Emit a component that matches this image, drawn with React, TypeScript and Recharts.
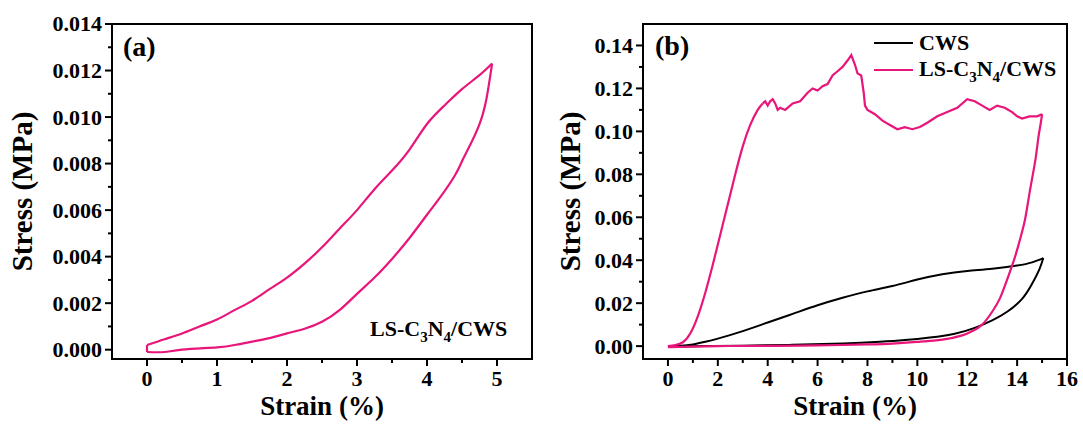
import React from "react";
import { LineChart, Line, XAxis, YAxis, ReferenceArea, Legend } from "recharts";

const PINK = "#e8157a";
const FONT = "'Liberation Serif', 'Times New Roman', serif";
const MAJOR_LEN = 7;
const MINOR_LEN = 4;

// (a) LS-C3N4/CWS loop: loading branch, unloading branch, closing step at 0 %
const A_LOAD_STRAIN = [0, 0.25, 0.5, 0.75, 1, 1.25, 1.5, 1.75, 2, 2.25, 2.5, 2.75, 3, 3.25, 3.5, 3.75, 4, 4.25, 4.5, 4.75, 4.93];
const A_LOAD_STRESS = [0.0002, 0.00045, 0.0007, 0.001, 0.0013, 0.0017, 0.0021, 0.0026, 0.0031, 0.0037, 0.0044, 0.0052, 0.006, 0.0069, 0.0077, 0.0086, 0.0097, 0.0105, 0.0112, 0.0118, 0.0123];
const A_UNLOAD_STRAIN = [4.93, 4.85, 4.75, 4.6, 4.5, 4.4, 4.2, 4, 3.75, 3.5, 3.25, 3, 2.75, 2.5, 2.25, 2, 1.75, 1.5, 1.25, 1, 0.5, 0.25, 0];
const A_UNLOAD_STRESS = [0.0123, 0.0108, 0.0097, 0.0087, 0.0081, 0.0075, 0.0066, 0.0058, 0.0048, 0.0039, 0.0031, 0.0024, 0.0017, 0.0012, 0.0009, 0.0007, 0.0005, 0.00035, 0.0002, 0.0001, 0, -0.0001, -0.0001];
const A_CLOSE_STRAIN = [0, 0];
const A_CLOSE_STRESS = [-0.0001, 0.0002];

// (b) CWS
const CWS_LOAD_STRAIN = [0, 0.5, 1, 1.5, 2, 3, 4, 5, 6, 7, 8, 9, 10, 11, 12, 13, 14, 14.6, 15.05];
const CWS_LOAD_STRESS = [0, 0.0002, 0.0008, 0.002, 0.0035, 0.007, 0.011, 0.015, 0.019, 0.0225, 0.0255, 0.028, 0.031, 0.0335, 0.035, 0.036, 0.0375, 0.039, 0.041];
const CWS_UNLOAD_STRAIN = [15.05, 14.9, 14.6, 14.2, 13.6, 13, 12.3, 11.5, 10.5, 9.5, 8.5, 7, 5, 3, 1.5, 0];
const CWS_UNLOAD_STRESS = [0.041, 0.036, 0.029, 0.022, 0.016, 0.012, 0.0085, 0.0058, 0.004, 0.0028, 0.002, 0.0012, 0.0006, 0.0002, 0, -0.0003];

// (b) LS-C3N4/CWS: steep rise, serrated plateau, unloading
const LS_RISE_STRAIN = [0, 0.3, 0.6, 0.9, 1.2, 1.5, 1.8, 2.1, 2.4, 2.7, 3, 3.3, 3.6, 3.8];
const LS_RISE_STRESS = [0, 0.0005, 0.0018, 0.006, 0.014, 0.025, 0.038, 0.052, 0.066, 0.08, 0.093, 0.103, 0.11, 0.113];
const LS_PLATEAU_STRAIN = [3.8, 3.9, 4, 4.1, 4.2, 4.3, 4.4, 4.5, 4.7, 5, 5.3, 5.6, 5.8, 6, 6.2, 6.4, 6.6, 6.8, 7, 7.2, 7.35, 7.5, 7.6, 7.75, 7.85, 7.9, 8, 8.3, 8.6, 8.9, 9.2, 9.5, 9.8, 10.1, 10.4, 10.8, 11.2, 11.6, 12, 12.3, 12.6, 12.9, 13.2, 13.5, 13.8, 14, 14.2, 14.5, 14.8, 15];
const LS_PLATEAU_STRESS = [0.113, 0.114, 0.112, 0.114, 0.115, 0.113, 0.11, 0.111, 0.11, 0.113, 0.114, 0.118, 0.12, 0.119, 0.121, 0.122, 0.126, 0.128, 0.13, 0.133, 0.1355, 0.131, 0.127, 0.126, 0.118, 0.112, 0.11, 0.108, 0.105, 0.103, 0.101, 0.102, 0.101, 0.102, 0.104, 0.107, 0.109, 0.111, 0.115, 0.114, 0.112, 0.11, 0.112, 0.111, 0.109, 0.107, 0.106, 0.107, 0.107, 0.108];
const LS_UNLOAD_STRAIN = [15, 14.95, 14.85, 14.75, 14.6, 14.45, 14.3, 14.1, 13.9, 13.6, 13.3, 13, 12.6, 12.2, 11.8, 11, 10, 9, 8, 6, 4, 2, 0];
const LS_UNLOAD_STRESS = [0.108, 0.104, 0.097, 0.088, 0.078, 0.068, 0.058, 0.049, 0.041, 0.031, 0.022, 0.016, 0.01, 0.007, 0.005, 0.003, 0.002, 0.0012, 0.0008, 0.0003, 0.0001, 0, -0.0005];

// axes
const A_X_MAJOR = [0, 1, 2, 3, 4, 5];
const A_X_MINOR = [0.5, 1.5, 2.5, 3.5, 4.5];
const A_Y_MAJOR = [0, 0.002, 0.004, 0.006, 0.008, 0.01, 0.012, 0.014];
const A_Y_MINOR = [0.001, 0.003, 0.005, 0.007, 0.009, 0.011, 0.013];
const B_X_MAJOR = [0, 2, 4, 6, 8, 10, 12, 14, 16];
const B_X_MINOR = [1, 3, 5, 7, 9, 11, 13, 15];
const B_Y_MAJOR = [0, 0.02, 0.04, 0.06, 0.08, 0.1, 0.12, 0.14];
const B_Y_MINOR = [0.01, 0.03, 0.05, 0.07, 0.09, 0.11, 0.13];

const zip = (xs: number[], ys: number[]) => xs.map((x, i) => ({ x, y: ys[i] }));
const isIn = (list: number[], v: number) => list.some((m) => Math.abs(m - v) < 1e-9);
const allTicks = (a: number[], b: number[]) => [...a, ...b].sort((p, q) => p - q);

const textStyle = { fontFamily: FONT, fontWeight: 700, fill: "#000" } as const;

function XTick(props: any) {
  const { x, y, payload, majors, fmt } = props;
  const major = isIn(majors, payload.value);
  return (
    <g>
      <line x1={x} x2={x} y1={y} y2={y + (major ? MAJOR_LEN : MINOR_LEN)} stroke="#000" strokeWidth={2} />
      {major && (
        <text x={x} y={y + 27} textAnchor="middle" fontSize={22} {...textStyle}>
          {fmt(payload.value)}
        </text>
      )}
    </g>
  );
}

function YTick(props: any) {
  const { x, y, payload, majors, fmt } = props;
  const major = isIn(majors, payload.value);
  return (
    <g>
      <line x1={x - (major ? MAJOR_LEN : MINOR_LEN)} x2={x} y1={y} y2={y} stroke="#000" strokeWidth={2} />
      {major && (
        <text x={x - 10} y={y} dy="0.34em" textAnchor="end" fontSize={22} {...textStyle}>
          {fmt(payload.value)}
        </text>
      )}
    </g>
  );
}

function XTitle({ viewBox, text }: any) {
  const cx = viewBox.x + viewBox.width / 2;
  return (
    <text x={cx} y={viewBox.y + 56} textAnchor="middle" fontSize={27} {...textStyle}>
      {text}
    </text>
  );
}

function YTitle({ viewBox, text, gap }: any) {
  const cx = viewBox.x + viewBox.width - gap;
  const cy = viewBox.y + viewBox.height / 2;
  return (
    <text x={cx} y={cy} dy="0.34em" transform={`rotate(-90 ${cx} ${cy})`} textAnchor="middle" fontSize={29} {...textStyle}>
      {text}
    </text>
  );
}

// digits after an element symbol are drawn as subscripts
function FormulaHtml({ text }: { text: string }) {
  return (
    <>
      {text.split(/(\d)/).map((p, i) =>
        /\d/.test(p) ? (
          <span key={i} style={{ fontSize: 15, position: "relative", top: 6 }}>{p}</span>
        ) : (
          <span key={i}>{p}</span>
        )
      )}
    </>
  );
}

function FormulaSvg({ x, y, text }: { x: number; y: number; text: string }) {
  const parts = text.split(/(\d)/).filter((p) => p.length > 0);
  let down = false;
  return (
    <text x={x} y={y} fontSize={22} {...textStyle}>
      {parts.map((p, i) => {
        const isSub = /\d/.test(p);
        const dy = isSub ? 6 : down ? -6 : 0;
        down = isSub;
        return (
          <tspan key={i} dy={dy} fontSize={isSub ? 15 : 22}>
            {p}
          </tspan>
        );
      })}
    </text>
  );
}

function LegendBox(props: any) {
  const entries = (props.payload || []).filter(
    (e: any, i: number, all: any[]) => e.type !== "none" && all.findIndex((o: any) => o.value === e.value) === i
  );
  return (
    <div style={{ fontFamily: FONT, fontWeight: 700, fontSize: 22, color: "#000" }}>
      {entries.map((e: any) => (
        <div key={e.value} style={{ display: "flex", alignItems: "center", height: 27, whiteSpace: "nowrap" }}>
          <span style={{ display: "inline-block", width: 39, height: 2, background: e.color, marginRight: 6 }} />
          <span style={{ lineHeight: "22px" }}>
            <FormulaHtml text={e.value} />
          </span>
        </div>
      ))}
    </div>
  );
}

type Segment = { data: { x: number; y: number }[]; curve: "natural" | "linear" };
type Series = { name: string; color: string; width: number; segments: Segment[] };

type PanelProps = {
  width: number;
  margin: { top: number; right: number; bottom: number; left: number };
  xDomain: [number, number];
  yDomain: [number, number];
  xMajor: number[];
  xMinor: number[];
  yMajor: number[];
  yMinor: number[];
  xFmt: (v: number) => string;
  yFmt: (v: number) => string;
  yTitleGap: number;
  series: Series[];
  legend?: boolean;
};

function Panel(p: PanelProps) {
  return (
    <LineChart width={p.width} height={424} margin={p.margin}>
      <ReferenceArea
        x1={p.xDomain[0]}
        x2={p.xDomain[1]}
        y1={p.yDomain[0]}
        y2={p.yDomain[1]}
        fill="none"
        stroke="#000"
        strokeWidth={2}
        ifOverflow="visible"
      />
      <XAxis
        type="number"
        dataKey="x"
        domain={p.xDomain}
        allowDataOverflow
        ticks={allTicks(p.xMajor, p.xMinor)}
        interval={0}
        height={34}
        tickSize={0}
        tickMargin={0}
        tickLine={false}
        axisLine={{ stroke: "#000", strokeWidth: 2 }}
        tick={<XTick majors={p.xMajor} fmt={p.xFmt} />}
        label={<XTitle text="Strain (%)" />}
      />
      <YAxis
        type="number"
        dataKey="y"
        domain={p.yDomain}
        allowDataOverflow
        ticks={allTicks(p.yMajor, p.yMinor)}
        interval={0}
        width={100}
        tickSize={0}
        tickMargin={0}
        tickLine={false}
        axisLine={{ stroke: "#000", strokeWidth: 2 }}
        tick={<YTick majors={p.yMajor} fmt={p.yFmt} />}
        label={<YTitle text="Stress (MPa)" gap={p.yTitleGap} />}
      />
      {p.legend && (
        <Legend
          layout="vertical"
          verticalAlign="middle"
          align="center"
          content={<LegendBox />}
          wrapperStyle={{ left: 334, top: 29, width: "auto", height: "auto" }}
        />
      )}
      {p.series.flatMap((s) =>
        s.segments.map((seg, i) => (
          <Line
            key={`${s.name}-${i}`}
            name={s.name}
            data={seg.data}
            dataKey="y"
            type={seg.curve}
            stroke={s.color}
            strokeWidth={s.width}
            dot={false}
            activeDot={false}
            legendType={i === 0 ? "line" : "none"}
            isAnimationActive={false}
          />
        ))
      )}
    </LineChart>
  );
}

export default function App() {
  const loopA: Series = {
    name: "LS-C3N4/CWS",
    color: PINK,
    width: 2.2,
    segments: [
      { data: zip(A_LOAD_STRAIN, A_LOAD_STRESS), curve: "natural" },
      { data: zip(A_UNLOAD_STRAIN, A_UNLOAD_STRESS), curve: "natural" },
      { data: zip(A_CLOSE_STRAIN, A_CLOSE_STRESS), curve: "linear" },
    ],
  };
  const cws: Series = {
    name: "CWS",
    color: "#000",
    width: 2,
    segments: [
      { data: zip(CWS_LOAD_STRAIN, CWS_LOAD_STRESS), curve: "natural" },
      { data: zip(CWS_UNLOAD_STRAIN, CWS_UNLOAD_STRESS), curve: "natural" },
    ],
  };
  const ls: Series = {
    name: "LS-C3N4/CWS",
    color: PINK,
    width: 2.2,
    segments: [
      { data: zip(LS_RISE_STRAIN, LS_RISE_STRESS), curve: "natural" },
      { data: zip(LS_PLATEAU_STRAIN, LS_PLATEAU_STRESS), curve: "linear" },
      { data: zip(LS_UNLOAD_STRAIN, LS_UNLOAD_STRESS), curve: "natural" },
    ],
  };

  return (
    <div style={{ position: "absolute", left: 0, top: 0, width: 1083, height: 424, background: "#fff" }}>
      <div style={{ position: "absolute", left: 0, top: 0, width: 540, height: 424 }}>
        <Panel
          width={540}
          margin={{ top: 24, right: 8, bottom: 31, left: 12 }}
          xDomain={[-0.5, 5.5]}
          yDomain={[-0.0004, 0.014]}
          xMajor={A_X_MAJOR}
          xMinor={A_X_MINOR}
          yMajor={A_Y_MAJOR}
          yMinor={A_Y_MINOR}
          xFmt={(v) => String(v)}
          yFmt={(v) => v.toFixed(3)}
          yTitleGap={90}
          series={[loopA]}
        />
        <svg width={540} height={424} style={{ position: "absolute", left: 0, top: 0, pointerEvents: "none" }}>
          <text x={123} y={56} fontSize={28} {...textStyle}>(a)</text>
          <FormulaSvg x={370} y={336} text="LS-C3N4/CWS" />
        </svg>
      </div>
      <div style={{ position: "absolute", left: 540, top: 0, width: 543, height: 424 }}>
        <Panel
          width={543}
          margin={{ top: 24, right: 16, bottom: 31, left: 3 }}
          xDomain={[-1, 16]}
          yDomain={[-0.006, 0.15]}
          xMajor={B_X_MAJOR}
          xMinor={B_X_MINOR}
          yMajor={B_Y_MAJOR}
          yMinor={B_Y_MINOR}
          xFmt={(v) => String(v)}
          yFmt={(v) => v.toFixed(2)}
          yTitleGap={73}
          legend
          series={[cws, ls]}
        />
        <svg width={543} height={424} style={{ position: "absolute", left: 0, top: 0, pointerEvents: "none" }}>
          <text x={115} y={55} fontSize={28} {...textStyle}>(b)</text>
        </svg>
      </div>
    </div>
  );
}
